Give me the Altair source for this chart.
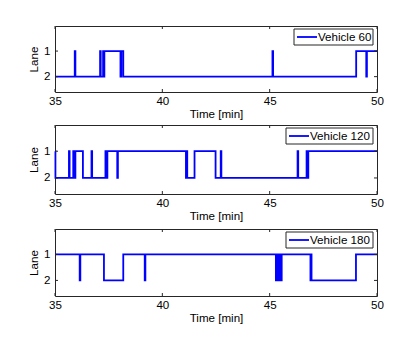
import altair as alt
import pandas as pd

# ---- data ----
x_ticks = [35, 40, 45, 50]
y_ticks = [1, 2]

names = ["Vehicle 60", "Vehicle 120", "Vehicle 180"]

t60 = [35.0, 35.92, 35.95, 37.10, 37.13, 37.24, 37.27, 37.30, 38.05, 38.09, 38.18,
       45.13, 45.16, 49.03, 49.50, 49.53, 50.0]
lane60 = [2, 1, 2, 1, 2, 1, 2, 1, 2, 1, 2,
          1, 2, 1, 2, 1, 1]

t120 = [35.0, 35.02, 35.65, 35.68, 35.85, 35.90, 35.95, 36.30, 36.70, 36.73,
        37.35, 37.40, 37.44, 37.90, 37.93, 41.10, 41.13, 41.16, 41.50, 42.48,
        42.72, 42.75, 46.30, 46.33, 46.72, 46.76, 46.80, 50.0]
lane120 = [1, 2, 1, 2, 1, 2, 1, 2, 1, 2,
           1, 2, 1, 2, 1, 2, 1, 2, 1, 2,
           1, 2, 1, 2, 1, 2, 1, 1]

t180 = [35.0, 36.15, 36.18, 37.28, 38.18, 39.18, 39.21,
        45.29, 45.32, 45.35, 45.38, 45.41, 45.44, 45.47, 45.50, 45.53, 45.56,
        46.90, 46.93, 46.95, 49.02, 50.0]
lane180 = [1, 2, 1, 2, 1, 2, 1,
           2, 1, 2, 1, 2, 1, 2, 1, 2, 1,
           2, 1, 2, 1, 1]

series = [(t60, lane60), (t120, lane120), (t180, lane180)]

# ---- styling / layout ----
heights = [66, 69, 67]
legend_w = [79, 87, 87]
W = 322
FONT = "Liberation Sans"
FS = 11.6
BLUE = "#0000ff"
FRAME = "#262626"
LW = 1.8


def panel(t, lane, name, h, bw):
    df = pd.DataFrame({"t": t, "lane": lane})
    xt = pd.DataFrame({"t": x_ticks})
    yt = pd.DataFrame({"lane": y_ticks})
    leg = pd.DataFrame({"label": [name]})
    xs = alt.Scale(domain=[35, 50], nice=False, zero=False)
    ys = alt.Scale(domain=[0.02, 2.6], reverse=True, nice=False, zero=False)
    x = alt.X("t:Q", scale=xs,
              axis=alt.Axis(values=x_ticks, title="Time [min]", ticks=False, grid=False,
                            domain=False, labelPadding=3, titlePadding=2, labelFlush=False))
    y = alt.Y("lane:Q", scale=ys,
              axis=alt.Axis(values=y_ticks, title="Lane", ticks=False, grid=False,
                            domain=False, labelPadding=5, titlePadding=4))
    line = alt.Chart(df).mark_line(interpolate="step-after", strokeWidth=LW,
                                   color=BLUE).encode(x=x, y=y)
    xb = alt.Chart(xt).mark_rule(color=FRAME, strokeWidth=1).encode(
        x="t:Q", y=alt.value(h), y2=alt.value(h - 3))
    xtop = alt.Chart(xt).mark_rule(color=FRAME, strokeWidth=1).encode(
        x="t:Q", y=alt.value(0), y2=alt.value(3))
    yl = alt.Chart(yt).mark_rule(color=FRAME, strokeWidth=1).encode(
        y="lane:Q", x=alt.value(0), x2=alt.value(3))
    yr = alt.Chart(yt).mark_rule(color=FRAME, strokeWidth=1).encode(
        y="lane:Q", x=alt.value(W), x2=alt.value(W - 3))
    x0 = W - 4 - bw
    box = alt.Chart(leg).mark_rect(fill="white", stroke=FRAME, strokeWidth=1).encode(
        x=alt.value(x0), x2=alt.value(W - 4), y=alt.value(3), y2=alt.value(19))
    sym = alt.Chart(leg).mark_rule(color=BLUE, strokeWidth=LW).encode(
        x=alt.value(x0 + 3), x2=alt.value(x0 + 23), y=alt.value(11))
    txt = alt.Chart(leg).mark_text(align="left", baseline="middle", font=FONT,
                                   fontSize=FS, color="black").encode(
        x=alt.value(x0 + 24), y=alt.value(11.5), text="label:N")
    return alt.layer(line, xb, xtop, yl, yr, box, sym, txt).properties(width=W, height=h)


p = [panel(t, l, n, h, bw) for (t, l), n, h, bw in zip(series, names, heights, legend_w)]

chart = alt.vconcat(alt.vconcat(p[0], p[1], spacing=3), p[2], spacing=5).properties(
    padding={"left": 20, "top": 17, "right": 5, "bottom": 5}
).configure_view(
    stroke=FRAME, strokeWidth=1
).configure_axis(
    labelFont=FONT, titleFont=FONT, labelFontSize=FS, titleFontSize=FS,
    titleFontWeight="normal", labelColor="black", titleColor="black"
)

chart.save("out.html", embed_options={"renderer": "svg", "actions": False})
